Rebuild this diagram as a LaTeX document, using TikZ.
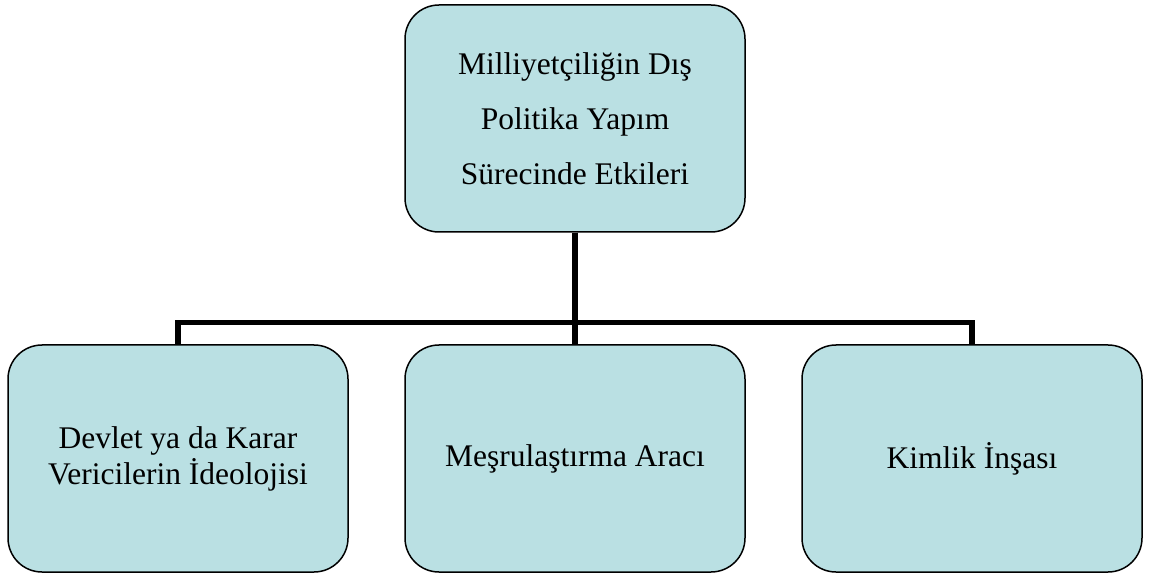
\documentclass[tikz,border=0pt]{standalone}
\usepackage{fontspec}
\setmainfont{Liberation Serif}
\definecolor{boxfill}{RGB}{186,224,227}

\begin{document}
\begin{tikzpicture}[x=1pt,y=1pt]
\useasboundingbox (0,0) rectangle (1160,-577);
\tikzstyle{every node}=[draw,line width=1.5pt,fill=boxfill,rounded corners=34pt,minimum width=340pt,minimum height=227pt,inner sep=0pt,align=center,font=\fontsize{31.5}{36}\selectfont];
\node (effects) at (575,-118.5) [font=\fontsize{31.5}{55}\selectfont] {Milliyetçiliğin Dış\\Politika Yapım\\Sürecinde Etkileri}[sibling distance=397pt,level distance=340pt,
	edge from parent/.style={draw,line width=5.5pt},
	edge from parent path={(\tikzparentnode.south) -- ++(0,-90) -| (\tikzchildnode.north)}]
child { node (ideology) {Devlet ya da Karar\\Vericilerin İdeolojisi} }
child { node (legitimacy) {Meşrulaştırma Aracı} }
child { node (identity) {Kimlik İnşası} };
\end{tikzpicture}
\end{document}
